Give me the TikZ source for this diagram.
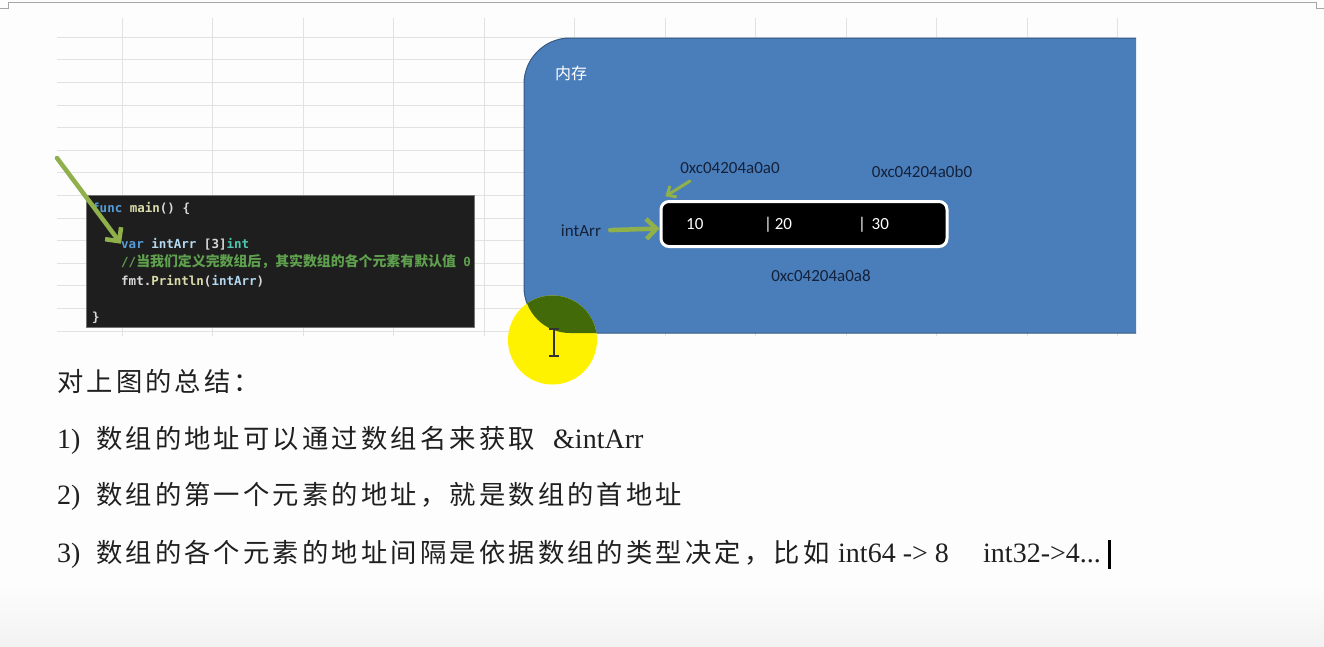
\documentclass[tikz,border=0pt]{standalone}
\usepackage{fontspec}
\setmainfont{Liberation Serif}
\setmonofont{DejaVu Sans Mono}
\newfontfamily\cjk[LetterSpace=12]{Noto Sans CJK SC}
\newfontfamily\cjksmall{Noto Sans CJK SC}
\newfontfamily\boxfont{Carlito}
\usetikzlibrary{arrows.meta}
\definecolor{pagebg}{HTML}{FDFDFD}
\definecolor{gridgray}{HTML}{E2E2E2}
\definecolor{memblue}{HTML}{4A7EBB}
\definecolor{arrowgreen}{HTML}{8FB04A}
\definecolor{codebg}{HTML}{1E1E1E}
\definecolor{kwblue}{HTML}{569CD6}
\definecolor{fnyellow}{HTML}{DCDCAA}
\definecolor{varblue}{HTML}{B4D8F0}
\definecolor{typeteal}{HTML}{4EC9B0}
\definecolor{cmtgreen}{HTML}{5FA04E}
\definecolor{pointer}{HTML}{FFF200}
\definecolor{overlap}{HTML}{426A08}
\definecolor{labelink}{HTML}{14213A}

\begin{document}
\begin{tikzpicture}[x=1pt, y=-1pt,
  txt/.style={inner sep=0pt, anchor=base west},
  summary/.style={txt, font=\fontsize{28}{30}\selectfont, text=black!88},
  cjkline/.style={txt, font=\cjk\fontsize{26.3}{30}\selectfont, text=black!88},
  code/.style={txt, font=\fontsize{12.5}{14}\selectfont\ttfamily\bfseries, text=white!85!black},
  addr/.style={inner sep=0pt, font=\boxfont\fontsize{17}{19}\selectfont, text=labelink},
  cell/.style={txt, font=\boxfont\fontsize{17}{19}\selectfont, text=white},
  greenarrow/.style={arrowgreen, line width=4.5pt, line cap=round,
    -{Straight Barb[length=10pt, width=20pt]}}]
\useasboundingbox (0,0) rectangle (1324,646);
\fill[pagebg] (0,0) rectangle (1324,646);
\shade[top color=pagebg, bottom color=black!5] (0,585) rectangle (1324,646);
\draw[gray!70] (0,8) -- (8,8) -- (8,2) -- (1316,2) -- (1316,8) -- (1324,8);

% Grid
\foreach \gx in {0,...,11}
  \draw[gridgray] ({121.7+90.5*\gx},18) -- ++(0,318);
\foreach \gy in {0,...,13}
  \draw[gridgray] (57,{37+22.6*\gy}) -- (1117,{37+22.6*\gy});

% Code
\node[fill=codebg, draw=black!55, inner sep=0pt, minimum width=388pt,
  minimum height=132pt] (codeArea) at (280,261) {};
\begin{scope}
\clip (86,195) rectangle (474,327);
\node[code] (cFunc) at (92,212) {{\color{kwblue}func} {\color{fnyellow}main}() \{};
\node[code] (cVar) at (121,248) {{\color{kwblue}var} {\color{varblue}intArr} [3]{\color{typeteal}int}};
\node[code, text=cmtgreen] (cCmt) at (121,266)
  {//{\cjksmall\fontsize{13.9}{15}\selectfont 当我们定义完数组后，其实数组的各个元素有默认值} 0};
\node[code] (cFmt) at (121,285) {fmt.{\color{fnyellow}Println}({\color{varblue}intArr})};
\node[code] (cEnd) at (92,321) {\}};
\end{scope}
\coordinate (codeTail) at (57,158);
\draw[greenarrow] (codeTail) -- (cVar.west);

% Memory
\fill[memblue] (1136,38) [rounded corners=46pt] -- (524,38) -- (524,333)
  [sharp corners] -- (1136,333) -- cycle;
\draw[memblue!70!black, line width=1pt] (1136,38) [rounded corners=46pt] -- (524,38)
  -- (524,333) [sharp corners] -- (1136,333);
\node[inner sep=0pt, text=white, font=\cjksmall\fontsize{16}{18}\selectfont]
  (memTitle) at (571,73) {内存};

\node[fill=black, draw=white, line width=3pt, rounded corners=8pt, inner sep=0pt,
  minimum width=286pt, minimum height=45pt] (arr) at (804,224) {};
\node[cell] (cell1) at (686,229) {10};
\node[cell] (cell2) at (764,229) {|\,20};
\node[cell] (cell3) at (858,229) {|\,\,30};

\node[addr] (lblA0) at (730,168) {0xc04204a0a0};
\node[addr] (lblB0) at (922,172) {0xc04204a0b0};
\node[addr] (lblA8) at (821,276) {0xc04204a0a8};
\node[addr] (nameArr) at (581,231) {intArr};

\draw[greenarrow, shorten <=9pt] (nameArr) -- (arr);
\coordinate (a0tail) at (690,181);
\draw[greenarrow, line width=3pt, shorten >=7pt,
  -{Straight Barb[length=7pt, width=13pt]}] (a0tail) -- (arr.north west);

% Pointer
\fill[pointer] (552.5,340) circle (44.5);
\begin{scope}
\clip (1136,38) [rounded corners=46pt] -- (524,38) -- (524,333)
  [sharp corners] -- (1136,333) -- cycle;
\fill[overlap] (552.5,340) circle (44.5);
\end{scope}
\draw[black!80, line width=1.3pt] (554,329) -- (554,356);
\draw[black!80, line width=1.3pt] (549,329) -- (559,329);
\draw[black!80, line width=1.3pt] (549,356) -- (559,356);

% Summary
\node[cjkline] (sumTitle) at (57,391) {对上图的总结：};
\node[summary] (n1) at (57,448) {1)};
\node[cjkline] (t1) at (96,448) {数组的地址可以通过数组名来获取};
\node[summary] (x1) at (553,448) {\&intArr};
\node[summary] (n2) at (57,504) {2)};
\node[cjkline] (t2) at (96,504) {数组的第一个元素的地址，就是数组的首地址};
\node[summary] (n3) at (57,562) {3)};
\node[cjkline] (t3) at (96,562) {数组的各个元素的地址间隔是依据数组的类型决定，比如};
\node[summary] (x3) at (838,562) {int64 -> 8};
\node[summary] (y3) at (983,562) {int32->4...};
\fill[black] (1108,540) rectangle (1111,569);
\end{tikzpicture}
\end{document}
